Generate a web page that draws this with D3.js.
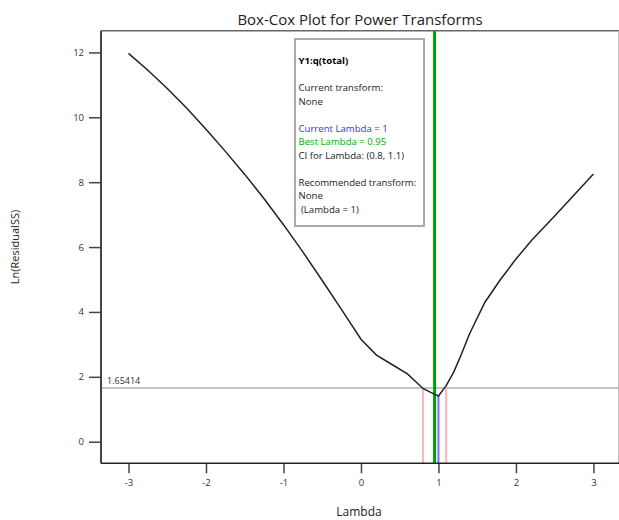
<!DOCTYPE html>
<html>
<head>
<meta charset="utf-8">
<script src="https://cdn.jsdelivr.net/npm/d3@7"></script>
<style>
  body { margin: 0; background: #fff; }
  svg { display: block; font-family: "Open Sans", "DejaVu Sans", sans-serif; }
</style>
</head>
<body>
<div id="chart"></div>
<script>
// Box-Cox curve
var lambdas = [-3, -2.75, -2.5, -2.25, -2, -1.75, -1.5, -1.25, -1, -0.75, -0.5, -0.25, 0, 0.2, 0.4, 0.6, 0.8, 0.9, 1.0, 1.1, 1.2, 1.3, 1.4, 1.6, 1.8, 2.0, 2.2, 2.5, 3.0];
var lnSS    = [11.97, 11.45, 10.89, 10.29, 9.63, 8.95, 8.24, 7.49, 6.69, 5.85, 4.97, 4.07, 3.16, 2.67, 2.38, 2.09, 1.64, 1.52, 1.41, 1.73, 2.16, 2.72, 3.32, 4.3, 5.0, 5.63, 6.2, 6.96, 8.25];

var xTicks = [-3, -2, -1, 0, 1, 2, 3];
var yTicks = [0, 2, 4, 6, 8, 10, 12];

var ciLimit = 1.65414;
var ciLambda = [0.8, 1.1];
var bestLambda = 0.95;
var currentLambda = 1;

var infoLines = [
  {text: 'Y1:q(total)', color: '#000', bold: true},
  {text: '', color: '#000'},
  {text: 'Current transform:', color: '#222'},
  {text: 'None', color: '#222'},
  {text: '', color: '#000'},
  {text: 'Current Lambda = 1', color: '#3333ff'},
  {text: 'Best Lambda = 0.95', color: '#00b000'},
  {text: 'CI for Lambda: (0.8, 1.1)', color: '#222'},
  {text: '', color: '#000'},
  {text: 'Recommended transform:', color: '#222'},
  {text: 'None', color: '#222'},
  {text: ' (Lambda = 1)', color: '#222'}
];

var W = 619, H = 520;
var pLeft = 101, pRight = 619, pTop = 30.7, pBottom = 463.3;

var svg = d3.select('#chart').append('svg')
  .attr('width', W)
  .attr('height', H);

var x = d3.scaleLinear().domain([-3.355, 3.33]).range([pLeft, pRight]);
var y = d3.scaleLinear().domain([-0.666, 12.67]).range([pBottom, pTop]);

// title
svg.append('text')
  .attr('x', 360).attr('y', 25)
  .attr('text-anchor', 'middle')
  .attr('font-size', 15)
  .attr('fill', '#222')
  .text('Box-Cox Plot for Power Transforms');

// CI threshold line
svg.append('line')
  .attr('x1', pLeft).attr('x2', pRight)
  .attr('y1', y(ciLimit)).attr('y2', y(ciLimit))
  .attr('stroke', '#c4c4c4').attr('stroke-width', 2);

svg.append('text')
  .attr('x', 107).attr('y', y(ciLimit) - 4)
  .attr('font-size', 9)
  .attr('fill', '#333')
  .text(ciLimit.toString());

// CI lambda lines
ciLambda.forEach(function(l){
  svg.append('line')
    .attr('x1', x(l)).attr('x2', x(l))
    .attr('y1', y(ciLimit)).attr('y2', pBottom)
    .attr('stroke', '#ffb4b4').attr('stroke-width', 2);
});

// current lambda line, from the curve down
var curIdx = lambdas.indexOf(currentLambda);
svg.append('line')
  .attr('x1', x(currentLambda)).attr('x2', x(currentLambda))
  .attr('y1', y(lnSS[curIdx])).attr('y2', pBottom)
  .attr('stroke', '#7070ff').attr('stroke-width', 2);

// best lambda line
svg.append('line')
  .attr('x1', x(bestLambda)).attr('x2', x(bestLambda))
  .attr('y1', pTop).attr('y2', pBottom)
  .attr('stroke', '#00a000').attr('stroke-width', 3);

// curve
var line = d3.line()
  .x(function(d, i){ return x(lambdas[i]); })
  .y(function(d){ return y(d); });

svg.append('path')
  .datum(lnSS)
  .attr('d', line)
  .attr('fill', 'none')
  .attr('stroke', '#222')
  .attr('stroke-width', 1.5);

// info box
var box = svg.append('g').attr('transform', 'translate(295, 39)');
box.append('rect')
  .attr('width', 129).attr('height', 187)
  .attr('fill', '#fff')
  .attr('stroke', '#aaa').attr('stroke-width', 2);

box.selectAll('text.info')
  .data(infoLines)
  .enter()
  .append('text')
  .attr('class', 'info')
  .attr('x', 3.5)
  .attr('y', function(d, i){ return 25 + i * 13.5; })
  .attr('font-size', 9.6)
  .attr('font-weight', function(d){ return d.bold ? 'bold' : 'normal'; })
  .attr('fill', function(d){ return d.color; })
  .attr('xml:space', 'preserve')
  .text(function(d){ return d.text; });

// frame
svg.append('line')
  .attr('x1', pLeft).attr('x2', pRight).attr('y1', pTop).attr('y2', pTop)
  .attr('stroke', '#666').attr('stroke-width', 1.5);
svg.append('line')
  .attr('x1', pRight - 0.5).attr('x2', pRight - 0.5).attr('y1', pTop).attr('y2', pBottom)
  .attr('stroke', '#bbb').attr('stroke-width', 1);

// axes
var yAxis = d3.axisLeft(y).tickValues(yTicks).tickSize(12).tickPadding(5)
  .tickFormat(function(d){ return String(d); });
var xAxis = d3.axisBottom(x).tickValues(xTicks).tickSize(10).tickPadding(6)
  .tickFormat(function(d){ return String(d); });

var gy = svg.append('g')
  .attr('transform', 'translate(' + pLeft + ',0)')
  .call(yAxis);
var gx = svg.append('g')
  .attr('transform', 'translate(0,' + pBottom + ')')
  .call(xAxis);

[gx, gy].forEach(function(g){
  g.select('.domain').remove();
  g.selectAll('.tick line').attr('stroke', '#444').attr('stroke-width', 1.5);
  g.selectAll('.tick text').attr('font-size', 9.5).attr('fill', '#333')
    .attr('font-family', '"Open Sans", sans-serif');
});

svg.append('line')
  .attr('x1', pLeft).attr('x2', pLeft).attr('y1', pTop).attr('y2', pBottom)
  .attr('stroke', '#444').attr('stroke-width', 2);
svg.append('line')
  .attr('x1', pLeft).attr('x2', pRight).attr('y1', pBottom).attr('y2', pBottom)
  .attr('stroke', '#222').attr('stroke-width', 1.5);

// axis titles
svg.append('text')
  .attr('x', 359).attr('y', 516)
  .attr('text-anchor', 'middle')
  .attr('font-size', 12)
  .attr('fill', '#222')
  .text('Lambda');

svg.append('text')
  .attr('transform', 'translate(19, 247) rotate(-90)')
  .attr('text-anchor', 'middle')
  .attr('font-size', 11)
  .attr('fill', '#222')
  .text('Ln(ResidualSS)');
</script>
</body>
</html>
